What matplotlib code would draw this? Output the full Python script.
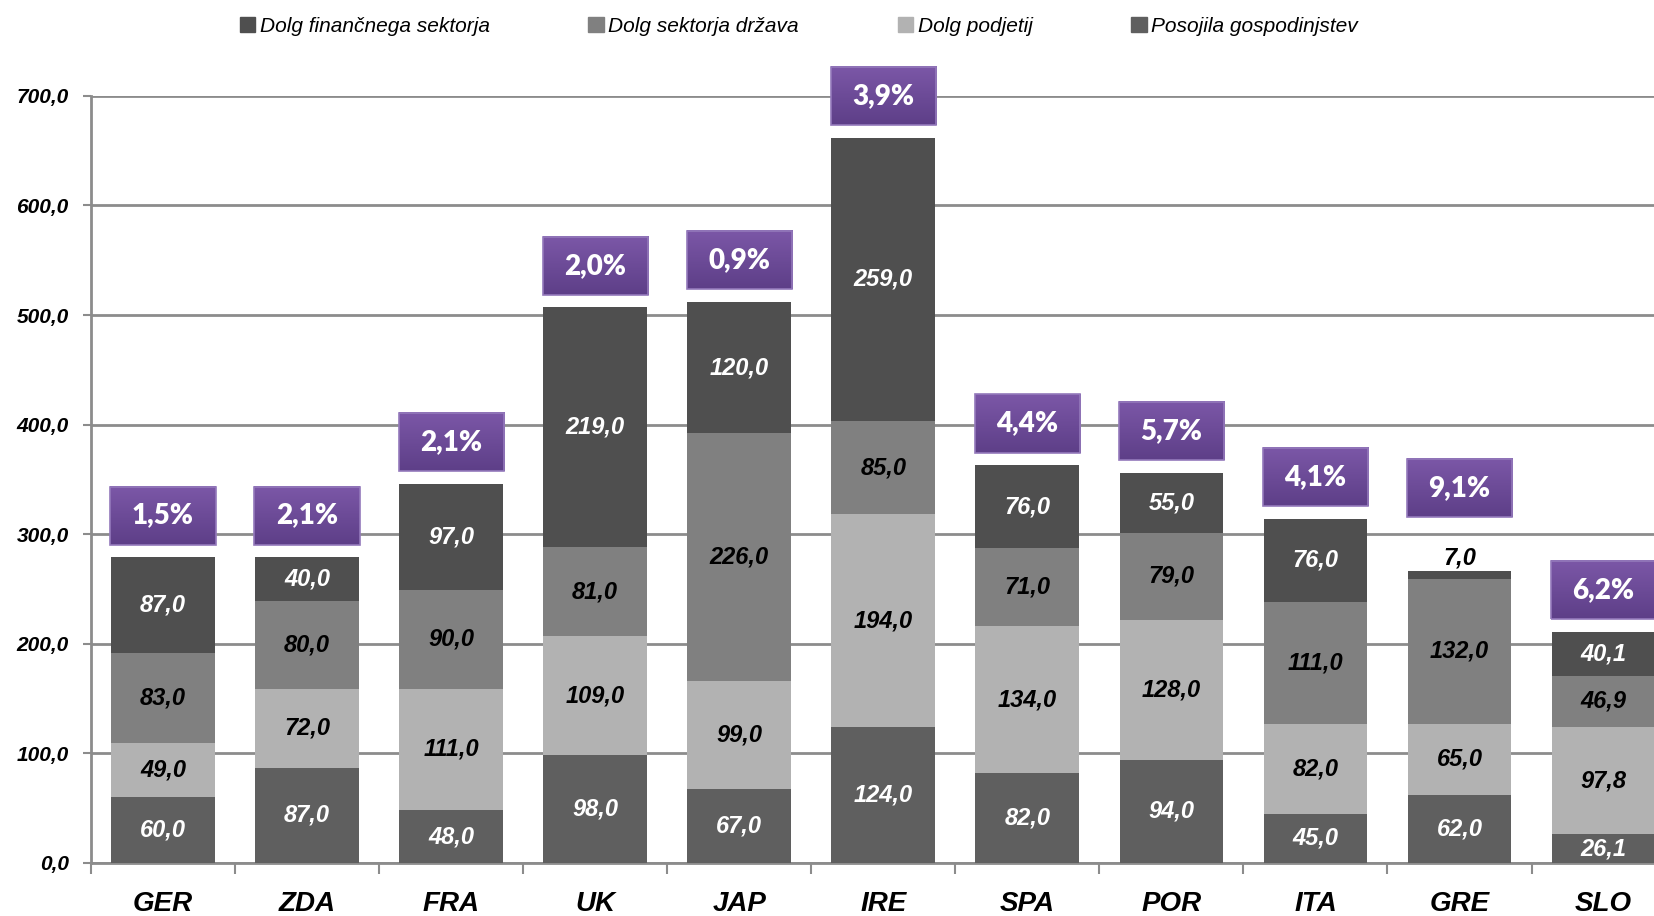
import numpy as np
import matplotlib.pyplot as plt
from matplotlib.patches import Patch
from matplotlib.colors import LinearSegmentedColormap
from matplotlib import font_manager

# Data
countries = ['GER', 'ZDA', 'FRA', 'UK', 'JAP', 'IRE', 'SPA', 'POR', 'ITA', 'GRE', 'SLO']
households = [60.0, 87.0, 48.0, 98.0, 67.0, 124.0, 82.0, 94.0, 45.0, 62.0, 26.1]
corporate = [49.0, 72.0, 111.0, 109.0, 99.0, 194.0, 134.0, 128.0, 82.0, 65.0, 97.8]
government = [83.0, 80.0, 90.0, 81.0, 226.0, 85.0, 71.0, 79.0, 111.0, 132.0, 46.9]
financial = [87.0, 40.0, 97.0, 219.0, 120.0, 259.0, 76.0, 55.0, 76.0, 7.0, 40.1]
growth = ['1,5%', '2,1%', '2,1%', '2,0%', '0,9%', '3,9%', '4,4%', '5,7%', '4,1%', '9,1%', '6,2%']

names = ['Dolg finančnega sektorja', 'Dolg sektorja država', 'Dolg podjetij', 'Posojila gospodinjstev']
col_fin, col_gov, col_corp, col_hh = '#4f4f4f', '#808080', '#b2b2b2', '#5f5f5f'

avail = {f.name for f in font_manager.fontManager.ttflist}
narrow = 'Liberation Sans Narrow' if 'Liberation Sans Narrow' in avail else 'Liberation Sans'
plt.rcParams['font.family'] = [narrow, 'DejaVu Sans']


def fmt(v):
    return f'{v:.1f}'.replace('.', ',')


fig = plt.figure(figsize=(16.54, 9.16), dpi=100)
ax = fig.add_axes([0.055, 0.058, 0.945, 0.8373])

x = np.arange(len(countries))
w = 0.72
hh = np.array(households)
co = np.array(corporate)
go = np.array(government)
fi = np.array(financial)

ax.bar(x, hh, w, color=col_hh, zorder=3)
ax.bar(x, co, w, bottom=hh, color=col_corp, zorder=3)
ax.bar(x, go, w, bottom=hh + co, color=col_gov, zorder=3)
ax.bar(x, fi, w, bottom=hh + co + go, color=col_fin, zorder=3)

lab = dict(fontsize=17, fontweight='bold', fontstyle='italic', ha='center', va='center', zorder=5)
for i in range(len(x)):
    b = 0
    for vals, tc in [(hh, 'white'), (co, 'black'), (go, 'black'), (fi, 'white')]:
        v = vals[i]
        if v < 15:
            ax.text(x[i], b + v + 12, fmt(v), color='black', **lab)
        else:
            ax.text(x[i], b + v / 2, fmt(v), color=tc, **lab)
        b += v

# purple growth boxes
total = hh + co + go + fi
cmap = LinearSegmentedColormap.from_list('pur', ['#5e3f88', '#7b57a7'])
grad = np.linspace(0, 1, 50).reshape(-1, 1)
bw, bh = 0.73, 53
for i in range(len(x)):
    yc = total[i] + 38
    if fi[i] < 15:
        yc += 38
    ax.imshow(grad, extent=[x[i] - bw / 2, x[i] + bw / 2, yc - bh / 2, yc + bh / 2],
              origin='lower', aspect='auto', cmap=cmap, zorder=4, clip_on=False)
    ax.add_patch(plt.Rectangle((x[i] - bw / 2, yc - bh / 2), bw, bh, fill=False,
                               edgecolor='#9479bb', lw=1.2, zorder=4, clip_on=False))
    ax.text(x[i], yc, growth[i], color='white', fontsize=20, fontweight='heavy',
            family=['Lato', 'DejaVu Sans'], ha='center', va='center', zorder=6, clip_on=False)

ax.set_yticks(np.arange(0, 701, 100))
ax.set_yticklabels([fmt(v) for v in np.arange(0, 701, 100)], fontsize=15,
                   fontweight='bold', fontstyle='italic')
ax.set_xticks(x)
ax.set_xticklabels(countries, fontsize=20, fontweight='bold', fontstyle='italic')
ax.set_xticks(np.arange(-0.5, 10, 1), minor=True)
ax.set_xlim(-0.5, 10.35)
ax.set_ylim(0, 700)
ax.tick_params(axis='x', which='major', length=0, pad=20)
ax.tick_params(axis='x', which='minor', length=8, width=1.5, color='#8c8c8c', direction='out')
ax.tick_params(axis='y', length=6, width=1.5, color='#8c8c8c', pad=10)

ax.grid(axis='y', color='#8c8c8c', lw=2, zorder=0)
for s in ['top', 'right']:
    ax.spines[s].set_visible(False)
for s in ['left', 'bottom']:
    ax.spines[s].set_color('#8c8c8c')
    ax.spines[s].set_linewidth(2)

handles = [Patch(color=c) for c in [col_fin, col_gov, col_corp, col_hh]]
fig.legend(handles, names, loc='center', bbox_to_anchor=(0.483, 0.971), ncol=4,
           frameon=False, prop=dict(family=[narrow, 'DejaVu Sans'], style='italic', size=15),
           handlelength=0.75, handleheight=0.75, handletextpad=0.2, columnspacing=4.75)

fig.savefig('out.png', dpi=100)
